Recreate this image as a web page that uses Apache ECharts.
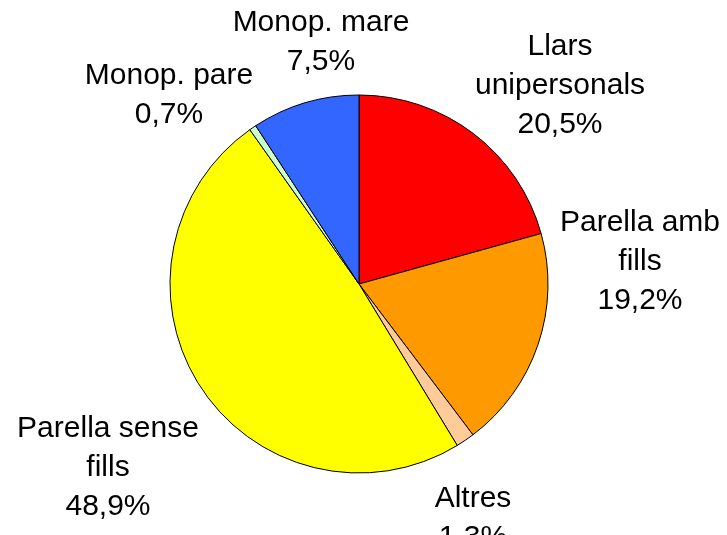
<!DOCTYPE html>
<html>
<head>
<meta charset="utf-8">
<script src="https://cdn.jsdelivr.net/npm/echarts@6.0.0/dist/echarts.min.js"></script>
<style>
  html, body { margin: 0; padding: 0; background: #fff; }
  #chart { width: 727px; height: 535px; }
</style>
</head>
<body>
<div id="chart"></div>
<script>
// categories (label text, with the line breaks used in the picture)
const categories = ['Llars\nunipersonals', 'Parella amb\nfills', 'Altres', 'Parella sense\nfills', 'Monop. pare', 'Monop. mare'];
// slice sizes as drawn in the picture
const shares = [20.7, 19.0, 1.6, 48.9, 0.6, 9.2];
// percentages printed in the labels
const printed = [20.5, 19.2, 1.3, 48.9, 0.7, 7.5];

const colors = ['#FF0000', '#FF9900', '#FFCC99', '#FFFF00', '#CCFFCC', '#3366FF'];
// label block centres
const labelAt = [[560, 86], [640, 262], [473, 518], [108, 468], [169, 95], [321, 42]];

const chart = echarts.init(document.getElementById('chart'));

chart.setOption({
  backgroundColor: '#fff',
  animation: false,
  series: [{
    type: 'pie',
    center: [359, 284],
    radius: 189,
    startAngle: 90,
    clockwise: true,
    avoidLabelOverlap: false,
    data: categories.map((name, i) => ({
      name: name,
      value: shares[i],
      itemStyle: { color: colors[i] }
    })),
    itemStyle: { borderColor: '#000', borderWidth: 1 },
    label: {
      show: true,
      position: 'outside',
      color: '#000',
      fontFamily: 'Liberation Sans, Arial, sans-serif',
      fontSize: 30,
      lineHeight: 39,
      align: 'center',
      formatter: p => p.name + '\n' + printed[p.dataIndex].toFixed(1).replace('.', ',') + '%'
    },
    labelLine: { show: false },
    labelLayout: p => ({
      x: labelAt[p.dataIndex][0],
      y: labelAt[p.dataIndex][1],
      align: 'center',
      verticalAlign: 'middle'
    }),
    emphasis: { disabled: true }
  }]
});
</script>
</body>
</html>
